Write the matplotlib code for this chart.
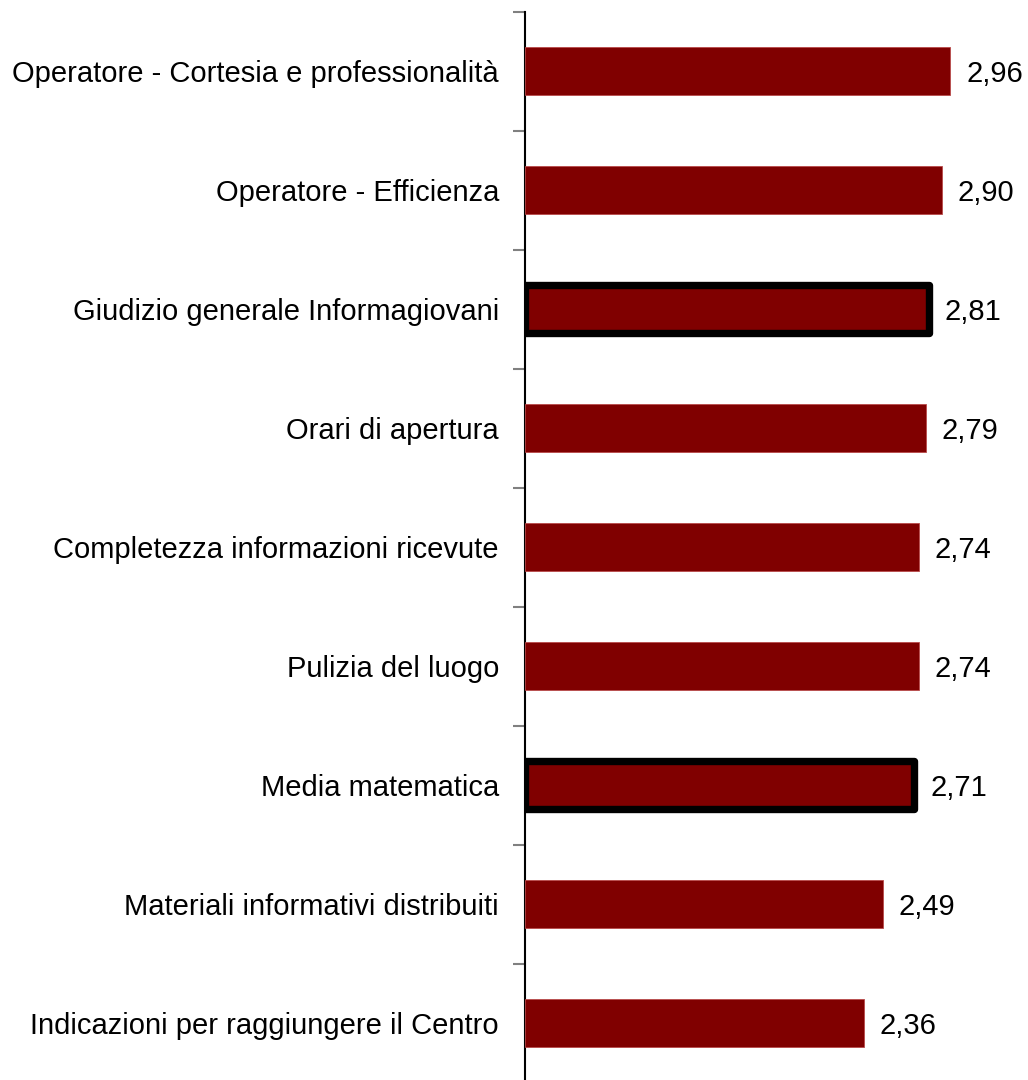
import matplotlib
matplotlib.use("Agg")
import matplotlib.pyplot as plt
import numpy as np

plt.rcParams['font.family'] = ['Liberation Sans', 'DejaVu Sans']

categories = [
    "Operatore - Cortesia e professionalità",
    "Operatore - Efficienza",
    "Giudizio generale Informagiovani",
    "Orari di apertura",
    "Completezza informazioni ricevute",
    "Pulizia del luogo",
    "Media matematica",
    "Materiali informativi distribuiti",
    "Indicazioni per raggiungere il Centro",
]
values = [2.96, 2.90, 2.81, 2.79, 2.74, 2.74, 2.71, 2.49, 2.36]
highlighted = ["Giudizio generale Informagiovani", "Media matematica"]

bar_color = "#800000"
font_size = 21

fig = plt.figure(figsize=(10.28, 10.80), dpi=100)
ax = fig.add_axes([524.5 / 1028, -2.5 / 1080, 1 - 524.5 / 1028, (1082.5 - 11.5) / 1080])

y = np.arange(len(categories))
for yi, cat, val in zip(y, categories, values):
    if cat in highlighted:
        ax.barh(yi, val, height=0.4, color=bar_color, edgecolor="black",
                linewidth=5.3, joinstyle="round", zorder=3)
    else:
        ax.barh(yi, val, height=0.4, color=bar_color, edgecolor="#b84a4a",
                linewidth=0.6, zorder=3)
    ax.annotate(f"{val:.2f}".replace(".", ","), xy=(val, yi), xytext=(11.5, 0),
                textcoords="offset points", ha="left", va="center_baseline",
                fontsize=font_size, color="black")

ax.set_xlim(0, 3.5)
ax.set_ylim(len(categories) - 0.5, -0.5)

# Category boundaries as major ticks, labels on minor ticks at bar centres
ax.set_yticks(np.arange(len(categories) + 1) - 0.5)
ax.set_yticklabels([])
ax.set_yticks(y, minor=True)
ax.set_yticklabels(categories, minor=True, fontsize=font_size)
ax.tick_params(axis="y", which="major", length=9, width=1.5, color="#808080")
ax.tick_params(axis="y", which="minor", length=0, pad=18.4)

ax.set_xticks([])
for side in ["top", "right", "bottom"]:
    ax.spines[side].set_visible(False)
ax.spines["left"].set_linewidth(1.5)
ax.spines["left"].set_color("black")

fig.savefig("out.png", dpi=100)
